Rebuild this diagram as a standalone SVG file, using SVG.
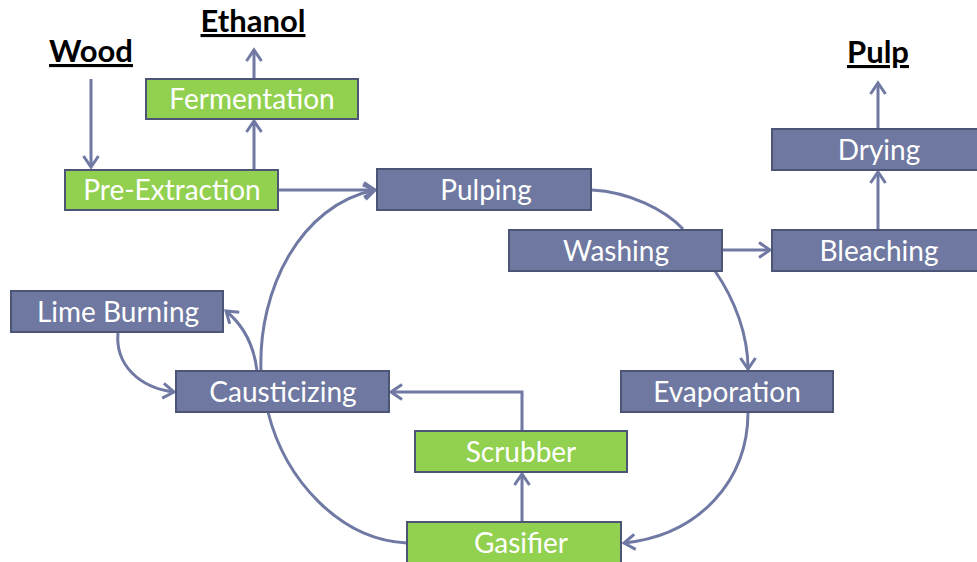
<svg xmlns="http://www.w3.org/2000/svg" width="977" height="562" viewBox="0 0 977 562">
  <defs>
    <marker id="arrow" markerUnits="userSpaceOnUse" markerWidth="20" markerHeight="20" viewBox="-14 -10 16 20" refX="0" refY="0" orient="auto">
      <path d="M -11 -7.5 L 0 0 L -11 7.5" fill="none" stroke="#7079a3" stroke-width="3" stroke-linejoin="miter"/>
    </marker>
    <style>
      .box rect { stroke: #4d5577; stroke-width: 2; }
      .blue rect { fill: #6e78a0; }
      .green rect { fill: #92d050; }
      .box text { fill: #ffffff; font-family: Lato, "Open Sans", "DejaVu Sans", sans-serif; font-size: 28px; text-anchor: middle; }
      .edge { fill: none; stroke: #7079a3; stroke-width: 3; }
      .arr { marker-end: url(#arrow); }
      .label { fill: #000000; font-family: Lato, "Liberation Sans", sans-serif; font-weight: bold; font-size: 31px; text-anchor: middle; text-decoration: underline; }
    </style>
  </defs>
  <rect width="977" height="562" fill="#ffffff"/>

  <!-- connectors -->
  <g id="connectors">
    <path class="edge arr" d="M 91 79 L 91 167"/>
    <path class="edge arr" d="M 254 169 L 254 121"/>
    <path class="edge arr" d="M 254 79 L 254 50"/>
    <path class="edge arr" d="M 278 190 L 375 190"/>
    <path class="edge" d="M 592 190 C 630 192 665 210 683 229"/>
    <path class="edge arr" d="M 715 271 C 735 300 748 335 748 369"/>
    <path class="edge arr" d="M 748 412 C 748 480 700 535 624 543"/>
    <path class="edge" d="M 268 412 C 285 480 340 540 407 543"/>
    <path class="edge arr" d="M 522 522 L 522 474"/>
    <path class="edge arr" d="M 522 431 L 522 392 L 391 392"/>
    <path class="edge arr" d="M 261 371 C 258 290 300 205 375 190"/>
    <path class="edge arr" d="M 257 371 C 254 345 243 325 226 311"/>
    <path class="edge arr" d="M 118 333 C 115 365 140 388 174 392"/>
    <path class="edge arr" d="M 722 250 L 770 250"/>
    <path class="edge arr" d="M 878 230 L 878 172"/>
    <path class="edge arr" d="M 878 128 L 878 83"/>
  </g>

  <!-- end products / inputs -->
  <g id="wood"><text class="label" x="91" y="62">Wood</text></g>
  <g id="ethanol"><text class="label" x="253" y="32">Ethanol</text></g>
  <g id="pulp"><text class="label" x="878" y="63">Pulp</text></g>

  <!-- process steps -->
  <g id="fermentation" class="box green"><rect x="146" y="79" width="212" height="40"/><text x="252" y="109">Fermentation</text></g>
  <g id="pre-extraction" class="box green"><rect x="65" y="170" width="213" height="40"/><text x="172" y="200">Pre-Extraction</text></g>
  <g id="pulping" class="box blue"><rect x="377" y="169" width="214" height="41"/><text x="486" y="200">Pulping</text></g>
  <g id="washing" class="box blue"><rect x="509" y="230" width="213" height="41"/><text x="616" y="261">Washing</text></g>
  <g id="bleaching" class="box blue"><rect x="772" y="230" width="214" height="41"/><text x="879" y="261">Bleaching</text></g>
  <g id="drying" class="box blue"><rect x="772" y="129" width="214" height="41"/><text x="879" y="160">Drying</text></g>
  <g id="lime-burning" class="box blue"><rect x="11" y="291" width="212" height="41"/><text x="118" y="322">Lime Burning</text></g>
  <g id="causticizing" class="box blue"><rect x="176" y="371" width="213" height="41"/><text x="283" y="402">Causticizing</text></g>
  <g id="evaporation" class="box blue"><rect x="621" y="371" width="212" height="41"/><text x="727" y="402">Evaporation</text></g>
  <g id="scrubber" class="box green"><rect x="415" y="431" width="212" height="41"/><text x="521" y="462">Scrubber</text></g>
  <g id="gasifier" class="box green"><rect x="407" y="522" width="214" height="41"/><text x="521" y="553">Gasifier</text></g>
</svg>
